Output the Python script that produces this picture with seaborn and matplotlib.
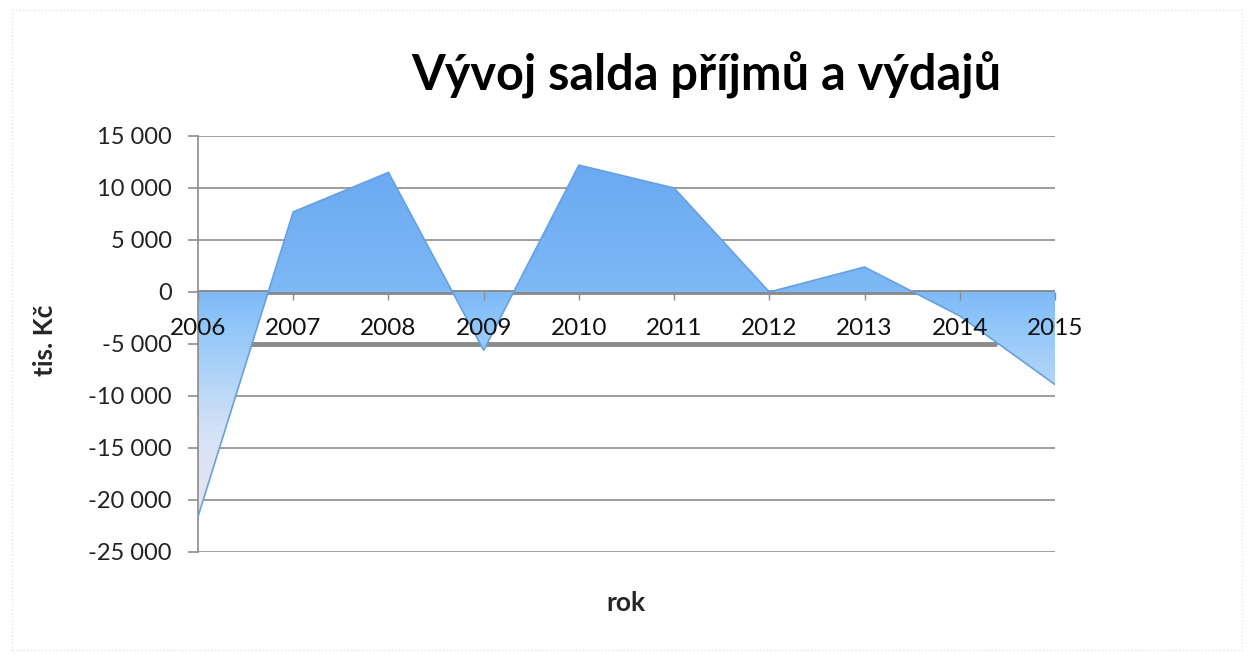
import numpy as np
import pandas as pd
import matplotlib
matplotlib.use("Agg")
import matplotlib.pyplot as plt
from matplotlib.colors import LinearSegmentedColormap
import seaborn as sns

# data
years = [2006, 2007, 2008, 2009, 2010, 2011, 2012, 2013, 2014, 2015]
saldo = [-21600, 7700, 11500, -5600, 12200, 10000, 0, 2400, -2300, -8900]
y_ticks = [15000, 10000, 5000, 0, -5000, -10000, -15000, -20000, -25000]

title = "Vývoj salda příjmů a výdajů"
x_title = "rok"
y_title = "tis. Kč"

df = pd.DataFrame({"rok": years, "saldo": saldo})

sns.set_style("white")
plt.rcParams["font.family"] = ["Lato", "DejaVu Sans"]

fig = plt.figure(figsize=(12.48, 6.54), dpi=100)
ax = fig.add_axes([198 / 1248, 1 - 552 / 654, 857 / 1248, 416 / 654])

# gridlines
for t in y_ticks:
    if t in (0, -5000):
        continue
    ax.axhline(t, color="#8c8c8c", lw=1.2, zorder=0)
ax.axhline(-5000, xmax=0.93, color="#8a8a8a", lw=3.5, zorder=0)

# area with vertical gradient
area = ax.fill_between(df["rok"], df["saldo"], 0, color="none", zorder=2)
cmap = LinearSegmentedColormap.from_list(
    "blu",
    [(0.0, "#efe4ee"), (0.25, "#d4e2f6"), (0.55, "#8fc6fa"),
     (0.65, "#7db8f6"), (1.0, "#6aa9f1")])
grad = np.linspace(0, 1, 256).reshape(-1, 1)
img = ax.imshow(grad, cmap=cmap, origin="lower", aspect="auto",
                extent=[years[0], years[-1], -22000, 12500], zorder=2)
img.set_clip_path(area.get_paths()[0], transform=ax.transData)

sns.lineplot(data=df, x="rok", y="saldo", color="#66a0e4", lw=1.2,
             ax=ax, zorder=3)

ax.axhline(0, color="#8a8a8a", lw=3.5, zorder=1)

ax.set_xlim(years[0], years[-1])
ax.set_ylim(-25000, 15000)

# axes
for s in ["top", "right", "bottom"]:
    ax.spines[s].set_visible(False)
ax.spines["left"].set_color("#8c8c8c")
ax.spines["left"].set_linewidth(1.2)
ax.spines["bottom"].set_position(("data", 0))

ax.set_yticks(y_ticks)
ax.set_yticklabels([f"{v:,}".replace(",", " ") for v in y_ticks],
                   fontsize=17, color="#222222")
ax.set_xticks(years)
ax.set_xticklabels([str(y) for y in years], fontsize=17.5, color="#111111")
ax.tick_params(axis="y", length=7, width=1.2, color="#8c8c8c", pad=12,
               left=True)
ax.tick_params(axis="x", length=6, width=1, color="#8c8c8c", pad=13,
               bottom=True, direction="out")
ax.xaxis.set_zorder(6)

ax.set_xlabel("")
ax.set_ylabel("")
fig.text(45 / 1248, 1 - 340 / 654, y_title, rotation=90, fontsize=19,
         fontweight="bold", ha="center", va="center")
fig.text(626 / 1248, 1 - 603 / 654, x_title, fontsize=19,
         fontweight="bold", ha="center", va="center")
fig.text(706 / 1248, 1 - 75 / 654, title, fontsize=35,
         fontweight="bold", ha="center", va="center", color="black")

# faint chart-area border
fig.add_artist(plt.Rectangle((12 / 1248, 4 / 654), 1230 / 1248, 640 / 654,
                             transform=fig.transFigure, fill=False,
                             ec="#e4e4e4", lw=1, ls=":"))

fig.savefig("out.png", dpi=100)
